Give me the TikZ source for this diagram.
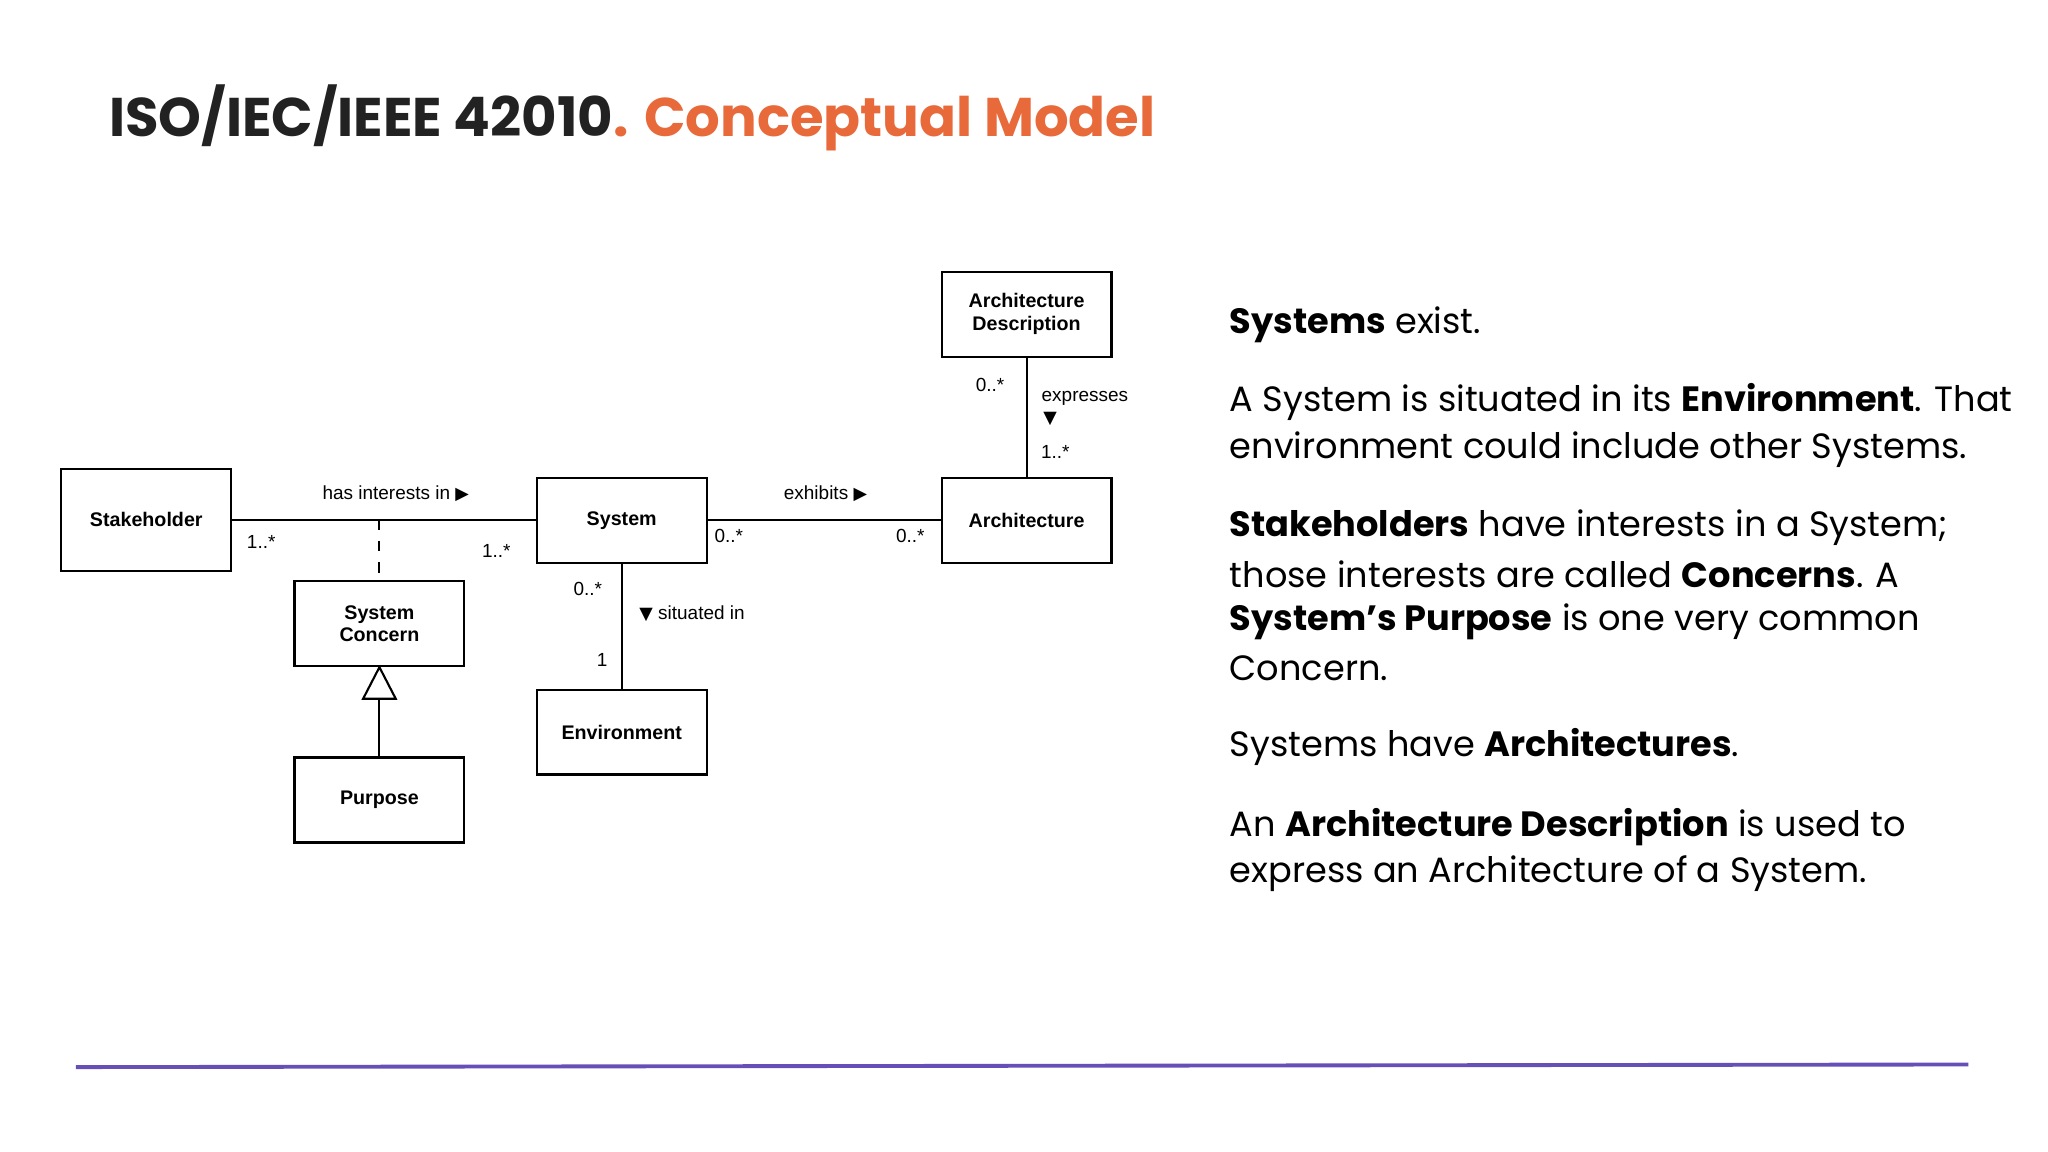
\documentclass[tikz,border=0pt]{standalone}
\usepackage{fontspec}
\setmainfont{Poppins}
\newfontfamily\diag{Liberation Sans}
\newfontfamily\sym{DejaVu Sans}
\definecolor{orng}{HTML}{E8693A}
\definecolor{ttl}{HTML}{222222}
\definecolor{purp}{HTML}{6650B8}
\begin{document}
\begin{tikzpicture}[x=0.01306cm,y=-0.01306cm,
  cls/.style={draw,line width=0.6pt,minimum width=130*0.01306cm,minimum height=65*0.01306cm,font=\diag\fontsize{5.6}{6.4}\selectfont\bfseries,align=center,inner sep=0pt},
  lbl/.style={font=\diag\fontsize{5.4}{6}\selectfont,inner sep=0pt},
  rt/.style={anchor=west,inner sep=0pt,font=\fontsize{10}{12}\selectfont},
  ln/.style={line width=0.6pt}]
\useasboundingbox (0,0) rectangle (1568,882);
\fill[white] (0,0) rectangle (1568,882);
\node[anchor=west,inner sep=0pt,font=\fontsize{15.5}{18}\selectfont\bfseries] (title) at (83,90) {\textcolor{ttl}{ISO/IEC/IEEE 42010}\textcolor{orng}{. Conceptual Model}};
% classes
\node[cls,minimum height=78*0.01306cm] (stk) at (112,398) {Stakeholder};
\node[cls] (sys) at (476,398.5) {System};
\node[cls] (arch) at (786,398.5) {Architecture};
\node[cls] (ad) at (786,240.5) {Architecture\\Description};
\node[cls] (sc) at (290.5,477.5) {System\\Concern};
\node[cls] (pur) at (290.5,612.5) {Purpose};
\node[cls] (env) at (476,560.5) {Environment};
% connectors
\draw[ln] (stk.east|-0,398) -- (sys.west|-0,398);
\draw[ln] (sys.east|-0,398) -- (arch.west|-0,398);
\coordinate (dj) at (290.5,398);
\draw[ln,dashed] (dj) -- (sc.north);
\draw[ln] (sys.south) -- (env.north);
\draw[ln] (arch.north) -- (ad.south);
\coordinate (tb) at (290.5,535);
\draw[ln,fill=white] (sc.south) -- (278,535) -- (303,535) -- cycle;
\draw[ln] (tb) -- (pur.north);
% labels
\node[lbl] at (303,378) {has interests in {\sym\fontsize{5}{6}\selectfont▶}};
\node[lbl] at (200,415) {1..*};
\node[lbl] at (380,422) {1..*};
\node[lbl] at (632,378) {exhibits {\sym\fontsize{5}{6}\selectfont▶}};
\node[lbl] at (558,410) {0..*};
\node[lbl] at (697,410) {0..*};
\node[lbl] at (758,295) {0..*};
\node[lbl,anchor=west] at (797,305) {expresses};
\node[lbl] at (804,321) {{\sym\fontsize{5}{6}\selectfont▼}};
\node[lbl] at (808,346) {1..*};
\node[lbl] at (450,451) {0..*};
\node[lbl,anchor=west] at (489,470) {{\sym\fontsize{5}{6}\selectfont▼} situated in};
\node[lbl] at (461,505) {1};
% right text
\node[rt] (t1) at (941,249) {\textbf{Systems} exist.};
\node[rt] (t2) at (941,308) {A System is situated in its \textbf{Environment}. That};
\node[rt] (t3) at (941,344) {environment could include other Systems.};
\node[rt] (t4) at (941,404) {\textbf{Stakeholders} have interests in a System;};
\node[rt] (t5) at (941,440) {those interests are called \textbf{Concerns}. A};
\node[rt] (t6) at (941,476) {\textbf{System’s Purpose} is one very common};
\node[rt] (t7) at (941,512) {Concern.};
\node[rt] (t8) at (941,572) {Systems have \textbf{Architectures}.};
\node[rt] (t9) at (941,633) {An \textbf{Architecture Description} is used to};
\node[rt] (t10) at (941,669) {express an Architecture of a System.};
\draw[purp,line width=1.1pt] (58,817) -- (1507,815);
\end{tikzpicture}
\end{document}
